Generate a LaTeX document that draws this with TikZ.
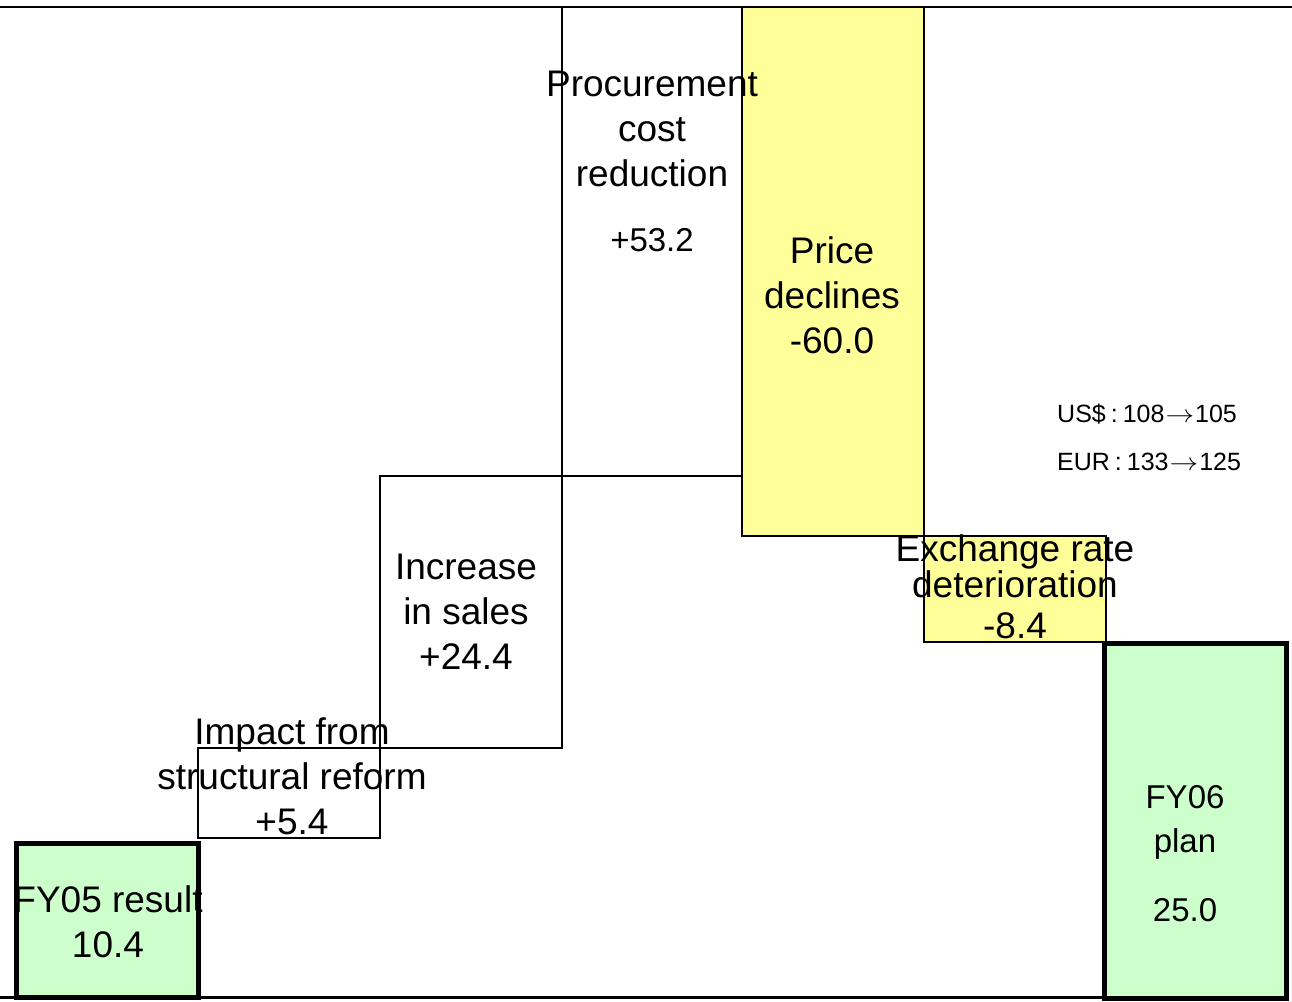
\documentclass[tikz,border=0pt]{standalone}
\usepackage{fontspec}
\usepackage{graphicx}
\setmainfont{Liberation Sans}
\definecolor{boxgreen}{HTML}{CCFFCC}
\definecolor{boxyellow}{HTML}{FFFF99}
\newcommand{\rateto}{\hspace{1pt}\scalebox{1.15}[1]{$\rightarrow$}\hspace{1pt}}
\newcommand{\ratecolon}{\hspace{5pt}:\hspace{5pt}}
\begin{document}
\begin{tikzpicture}[x=1pt,y=-1pt,
  bar/.style={draw=black, line width=2pt, anchor=north west, inner sep=0pt, outer sep=0pt},
  endbar/.style={bar, fill=boxgreen, line width=5pt},
  negbar/.style={bar, fill=boxyellow},
  lbl/.style={align=center, inner sep=0pt, font=\fontsize{37}{45}\selectfont},
  sublbl/.style={align=center, inner sep=0pt, font=\fontsize{33}{44}\selectfont},
  note/.style={anchor=west, inner sep=0pt, font=\fontsize{25}{28}\selectfont}]
\useasboundingbox (0,0) rectangle (1292,1001);
% axis lines
\coordinate (topL) at (0,7);
\coordinate (topR) at (1292,7);
\coordinate (botL) at (0,997);
\coordinate (botR) at (1104,997);
\draw[line width=2pt] (topL) -- (topR);
\draw[line width=3pt] (botL) -- (botR);
% bars
\node[endbar, minimum width=182pt, minimum height=154pt] (fy05) at (16,843) {};
\node[bar, minimum width=182pt, minimum height=90pt] (impact) at (198,748) {};
\node[bar, minimum width=182pt, minimum height=272pt] (sales) at (380,476) {};
\node[bar, minimum width=180pt, minimum height=469pt] (proc) at (562,7) {};
\node[negbar, minimum width=182pt, minimum height=529pt] (price) at (742,7) {};
\node[negbar, minimum width=182pt, minimum height=106pt] (fx) at (924,536) {};
\node[endbar, minimum width=182pt, minimum height=355pt] (fy06) at (1104,643) {};
% labels
\node[lbl] (fy05t) at (108,922) {FY05 result\\10.4};
\node[lbl] (impactt) at (292,776) {Impact from\\structural reform\\+5.4};
\node[lbl] (salest) at (466,612) {Increase\\in sales\\+24.4};
\node[lbl] (proct) at (652,129) {Procurement\\cost\\reduction};
\node[sublbl] (procv) at (652,240) {+53.2};
\node[lbl] (pricet) at (832,295) {Price\\declines\\-60.0};
\node[lbl, font=\fontsize{37}{36}\selectfont] (fxt) at (1015,566) {Exchange rate\\deterioration};
\node[lbl] (fxv) at (1015,626) {-8.4};
\node[sublbl] (fy06t) at (1185,822) {FY06\\plan};
\node[sublbl] (fy06v) at (1185,910) {25.0};
\node[note] (usd) at (1057,414) {US\$\ratecolon 108\rateto 105};
\node[note] (eur) at (1057,462) {EUR\ratecolon 133\rateto 125};
\end{tikzpicture}
\end{document}
